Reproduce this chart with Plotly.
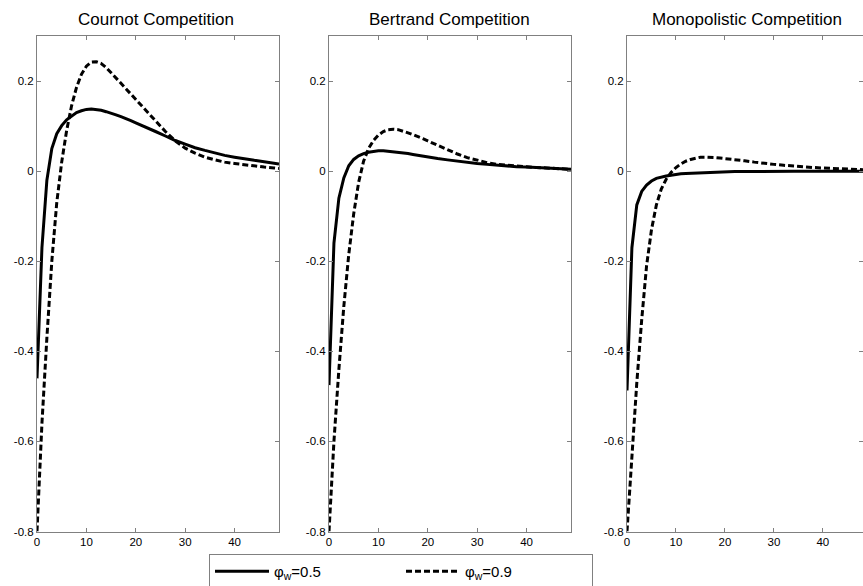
import plotly.graph_objects as go

W, H = 863, 586

t = list(range(0, 21)) + [22, 24, 26, 28, 30, 32, 34, 36, 38, 40, 42, 44, 46, 48, 49]

titles = ["Cournot Competition", "Bertrand Competition", "Monopolistic Competition"]
legend_names = ["φ<sub>w</sub>=0.5", "φ<sub>w</sub>=0.9"]

cournot_05 = [-0.46, -0.17, -0.02, 0.05, 0.083, 0.101, 0.114, 0.123, 0.130, 0.134, 0.137,
              0.138, 0.137, 0.135, 0.132, 0.129, 0.125, 0.121, 0.117, 0.112, 0.107,
              0.098, 0.088, 0.078, 0.068, 0.060, 0.052, 0.046, 0.040, 0.035, 0.031,
              0.027, 0.024, 0.021, 0.018, 0.016]
cournot_09 = [-0.80, -0.56, -0.37, -0.20, -0.07, 0.02, 0.09, 0.145, 0.186, 0.215, 0.233,
              0.242, 0.243, 0.239, 0.230, 0.219, 0.207, 0.195, 0.183, 0.171, 0.159,
              0.135, 0.111, 0.088, 0.067, 0.051, 0.040, 0.031, 0.025, 0.020, 0.017,
              0.014, 0.011, 0.009, 0.007, 0.006]
bertrand_05 = [-0.475, -0.16, -0.06, -0.015, 0.012, 0.026, 0.034, 0.039, 0.042, 0.044, 0.045,
               0.045, 0.044, 0.043, 0.042, 0.040, 0.039, 0.037, 0.035, 0.033, 0.031,
               0.028, 0.025, 0.022, 0.019, 0.017, 0.015, 0.013, 0.011, 0.010, 0.009,
               0.008, 0.007, 0.006, 0.005, 0.004]
bertrand_09 = [-0.80, -0.60, -0.44, -0.30, -0.185, -0.095, -0.025, 0.022, 0.050, 0.068, 0.080,
               0.088, 0.092, 0.093, 0.092, 0.089, 0.085, 0.081, 0.077, 0.072, 0.067,
               0.057, 0.047, 0.038, 0.030, 0.024, 0.019, 0.015, 0.013, 0.011, 0.009,
               0.008, 0.007, 0.006, 0.005, 0.004]
mono_05 = [-0.487, -0.17, -0.075, -0.045, -0.031, -0.022, -0.016, -0.013, -0.011, -0.009, -0.007,
           -0.006, -0.005, -0.0045, -0.004, -0.0035, -0.003, -0.0025, -0.002, -0.002, -0.0015,
           -0.001, -0.001, -0.0005, 0.0, 0.0, 0.0, 0.0, 0.0, 0.0, 0.0,
           0.0, 0.0, 0.0, 0.0, 0.0]
mono_09 = [-0.80, -0.63, -0.47, -0.33, -0.21, -0.13, -0.075, -0.04, -0.018, -0.003, 0.008,
           0.016, 0.022, 0.026, 0.029, 0.031, 0.031, 0.031, 0.030, 0.029, 0.028,
           0.025, 0.023, 0.020, 0.017, 0.015, 0.013, 0.011, 0.010, 0.008, 0.007,
           0.006, 0.005, 0.004, 0.003, 0.003]

series = [(cournot_05, cournot_09), (bertrand_05, bertrand_09), (mono_05, mono_09)]

y_ticks = [-0.8, -0.6, -0.4, -0.2, 0, 0.2]
y_ticktext = ["-0.8", "-0.6", "-0.4", "-0.2", "0", "0.2"]
x_ticks = [0, 10, 20, 30, 40]

# pixel geometry of panels (window coordinates)
panels_px = [(37, 279), (329, 571), (627, 863)]
x_max = [49, 49, 48.2]
top_px, bot_px = 36, 531.5


def px_x(p):
    return p / W


def px_y(p):
    return 1 - p / H


fig = go.Figure()
font = "Liberation Sans, Arial, sans-serif"
axis_col = "#808080"

for i, (s05, s09) in enumerate(series):
    xa = "x" if i == 0 else f"x{i+1}"
    ya = "y" if i == 0 else f"y{i+1}"
    fig.add_trace(go.Scatter(x=t, y=s05, mode="lines", name=legend_names[0],
                             line=dict(color="black", width=3), xaxis=xa, yaxis=ya,
                             showlegend=(i == 0)))
    fig.add_trace(go.Scatter(x=t, y=s09, mode="lines", name=legend_names[1],
                             line=dict(color="black", width=3, dash="6px,3px"), xaxis=xa, yaxis=ya,
                             showlegend=(i == 0)))
    x0, x1 = panels_px[i]
    key = "" if i == 0 else str(i + 1)
    fig.layout["xaxis" + key] = dict(
        domain=[px_x(x0), min(1.0, px_x(x1))], range=[0, x_max[i]], anchor=ya,
        tickvals=x_ticks, ticks="inside", ticklen=4, tickcolor=axis_col,
        showline=True, linecolor=axis_col, linewidth=1, mirror="ticks",
        showgrid=False, zeroline=False, automargin=False,
        tickfont=dict(family=font, size=11.5, color="black"))
    fig.layout["yaxis" + key] = dict(
        domain=[px_y(bot_px), px_y(top_px)], range=[-0.8, 0.3], anchor=xa,
        tickvals=y_ticks, ticktext=y_ticktext, ticks="inside", ticklen=4, tickcolor=axis_col,
        showline=True, linecolor=axis_col, linewidth=1, mirror="ticks",
        showgrid=False, zeroline=False, automargin=False,
        tickfont=dict(family=font, size=11.5, color="black"))

title_cx = [156, 449, 747]
for i in range(3):
    fig.add_annotation(text=titles[i], x=px_x(title_cx[i]), y=px_y(20),
                       xref="paper", yref="paper", showarrow=False,
                       font=dict(family=font, size=17, color="black"),
                       xanchor="center", yanchor="middle")

fig.update_layout(
    width=W, height=H,
    margin=dict(l=0, r=0, t=0, b=0, autoexpand=False),
    paper_bgcolor="white", plot_bgcolor="white",
    showlegend=True,
    legend=dict(orientation="h", x=px_x(209), y=px_y(554), xanchor="left", yanchor="top",
                bordercolor=axis_col, borderwidth=1, bgcolor="white",
                font=dict(family=font, size=15, color="black"),
                entrywidth=122, entrywidthmode="pixels", itemwidth=54,
                tracegroupgap=0),
)

css_js = (
    "var d=document.documentElement,b=document.body;"
    "d.style.margin='0';d.style.padding='0';d.style.overflow='hidden';"
    "b.style.margin='0';b.style.padding='0';b.style.overflow='hidden';"
)

fig.write_html(
    "out.html",
    config={"displayModeBar": False},
    post_script=css_js,
)
